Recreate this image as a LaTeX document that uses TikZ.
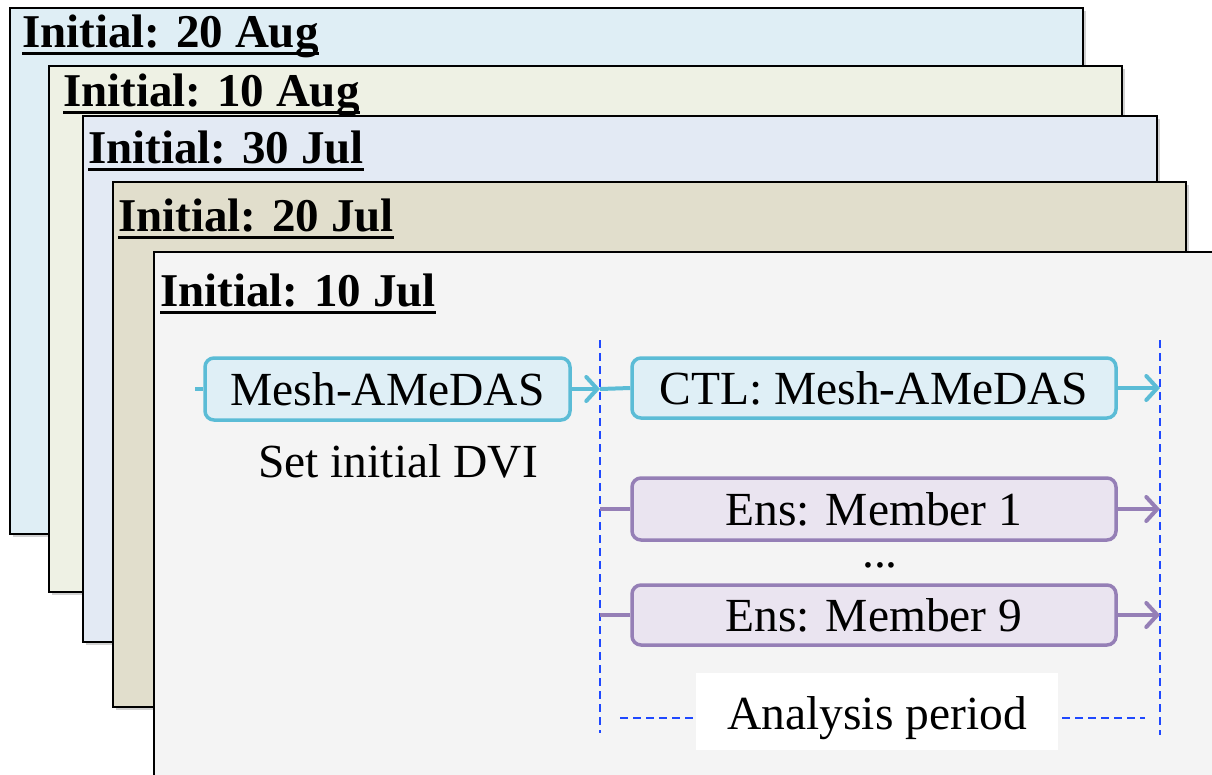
\documentclass[tikz,border=0pt]{standalone}
\usepackage{fontspec}
\setmainfont{Liberation Serif}
\usetikzlibrary{arrows.meta,shadows}

\definecolor{sheetA}{HTML}{DFEEF5}
\definecolor{sheetB}{HTML}{EEF1E4}
\definecolor{sheetC}{HTML}{E3EAF4}
\definecolor{sheetD}{HTML}{E1DECC}
\definecolor{sheetE}{HTML}{F4F4F4}
\definecolor{cyanedge}{HTML}{5BBCD6}
\definecolor{cyanfill}{HTML}{DFEFF6}
\definecolor{violetedge}{HTML}{957FB6}
\definecolor{violetfill}{HTML}{EAE4F0}
\definecolor{periodblue}{HTML}{1F48FF}

\tikzset{
  sheet/.style={draw=black, line width=2.5pt, rectangle, inner sep=0pt, outer sep=0pt,
    anchor=north west,
    drop shadow={shadow xshift=2.5pt, shadow yshift=-2.5pt, fill=black, opacity=0.18}},
  sheettitle/.style={anchor=base west, inner sep=0pt, font=\fontsize{47}{50}\selectfont\bfseries},
  titleline/.style={line width=3pt, line cap=butt},
  runbox/.style={rectangle, rounded corners=9pt, line width=3.5pt, inner sep=0pt,
    text depth=0pt, font=\fontsize{47.5}{50}\selectfont},
  ctlbox/.style={runbox, draw=cyanedge, fill=cyanfill},
  ensbox/.style={runbox, draw=violetedge, fill=violetfill},
  plain/.style={inner sep=0pt, font=\fontsize{47.5}{50}\selectfont},
  cyanlink/.style={draw=cyanedge, line width=4pt},
  violetlink/.style={draw=violetedge, line width=4pt},
  tip/.style={-{Straight Barb[length=11pt, width=24pt, line width=4pt, line cap=round]}},
  period/.style={draw=periodblue, line width=2pt, dash pattern=on 8pt off 5pt}
}

\begin{document}
\begin{tikzpicture}[x=1pt, y=-1pt]
\useasboundingbox (0,0) rectangle (1212,774);
\clip (0,0) rectangle (1212,774);

% stacked sheets, oldest start date in front
\node[sheet, fill=sheetA, minimum width=1073pt, minimum height=526pt] (s1) at (10,8) {};
\node[sheettitle] (t1) at (22,47) {Initial: 20 Aug};
\draw[titleline] ([yshift=-6pt]t1.base west) -- ([yshift=-6pt]t1.base east);

\node[sheet, fill=sheetB, minimum width=1073pt, minimum height=526pt] (s2) at (49,66) {};
\node[sheettitle] (t2) at (63,106) {Initial: 10 Aug};
\draw[titleline] ([yshift=-6pt]t2.base west) -- ([yshift=-6pt]t2.base east);

\node[sheet, fill=sheetC, minimum width=1074pt, minimum height=526pt] (s3) at (83,116) {};
\node[sheettitle] (t3) at (88,163) {Initial: 30 Jul};
\draw[titleline] ([yshift=-6pt]t3.base west) -- ([yshift=-6pt]t3.base east);

\node[sheet, fill=sheetD, minimum width=1073pt, minimum height=525pt] (s4) at (113,182) {};
\node[sheettitle] (t4) at (118,231) {Initial: 20 Jul};
\draw[titleline] ([yshift=-6pt]t4.base west) -- ([yshift=-6pt]t4.base east);

\node[sheet, fill=sheetE, minimum width=1100pt, minimum height=600pt] (s5) at (154,252) {};
\node[sheettitle] (t5) at (160,306) {Initial: 10 Jul};
\draw[titleline] ([yshift=-6pt]t5.base west) -- ([yshift=-6pt]t5.base east);

% analysis period bounds
\coordinate (pL1) at (600,340);
\coordinate (pL2) at (600,733);
\coordinate (pR1) at (1160,340);
\coordinate (pR2) at (1160,735);
\coordinate (hL) at (620,718);
\coordinate (hR) at (1145,718);
\draw[period] (pL1) -- (pL2);
\draw[period] (pR1) -- (pR2);
\draw[period] (hL) -- (hR);
\node[fill=white, minimum width=362pt, minimum height=77pt, inner sep=0pt] (apbox) at (877,711.5) {};
\node[plain, anchor=base] (ap) at (877,729) {Analysis period};

% runs
\node[ctlbox, minimum width=365pt, minimum height=62pt] (mesh) at (387.5,389) {Mesh-AMeDAS};
\node[plain, anchor=base] (dvi) at (398,477) {Set initial DVI};
\node[ctlbox, minimum width=484pt, minimum height=60pt] (ctl) at (874,388) {CTL: Mesh-AMeDAS};
\node[ensbox, minimum width=484pt, minimum height=62pt] (ens1) at (874,509) {Ens: Member 1};
\node[plain, anchor=base] (dots) at (880,567) {...};
\node[ensbox, minimum width=484pt, minimum height=60pt] (ens9) at (874,615) {Ens: Member 9};

% connectors
\coordinate (in0) at (195,389);
\coordinate (cL) at (600,389);
\coordinate (cR) at (1160,388);
\coordinate (e1L) at (600,509);
\coordinate (e1R) at (1160,509);
\coordinate (e9L) at (600,615);
\coordinate (e9R) at (1160,615);

\draw[cyanlink] (in0) -- (mesh.west);
\draw[cyanlink, tip] (mesh.east) -- (cL);
\draw[cyanlink] (cL) -- (ctl.west);
\draw[cyanlink, tip] (ctl.east) -- (cR);

\draw[violetlink] (e1L) -- (ens1.west);
\draw[violetlink, tip] (ens1.east) -- (e1R);
\draw[violetlink] (e9L) -- (ens9.west);
\draw[violetlink, tip] (ens9.east) -- (e9R);
\end{tikzpicture}
\end{document}
